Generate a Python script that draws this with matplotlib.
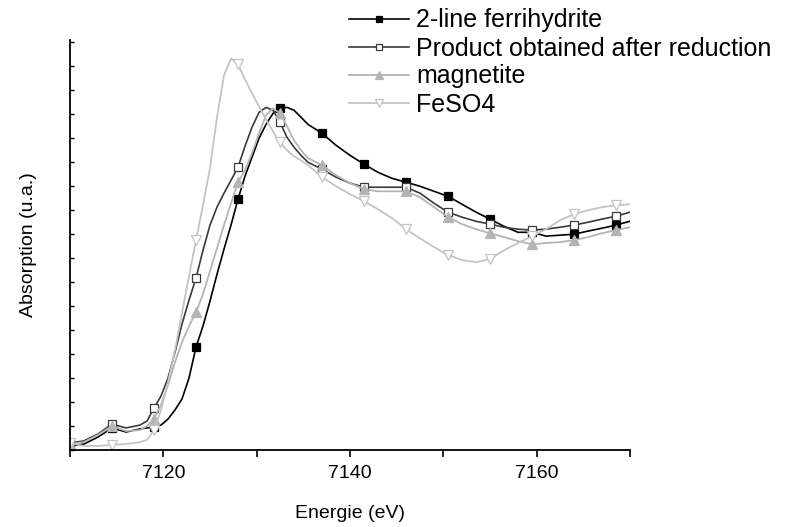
import numpy as np
import matplotlib
matplotlib.use("Agg")
import matplotlib.pyplot as plt
from matplotlib import ticker

plt.rcParams['font.family'] = ['Liberation Sans', 'DejaVu Sans']

# energie (eV), grille commune aux quatre spectres
energy = [7110.0, 7111.5, 7113.0, 7114.5, 7116.0,
          7117.5, 7118.25, 7119.0, 7119.75, 7120.5, 7121.25, 7122.0, 7122.75,
          7123.5, 7124.25, 7125.0, 7125.75, 7126.5, 7127.25, 7128.0, 7128.75,
          7129.5, 7130.25, 7131.0, 7131.75, 7132.5, 7133.25, 7134.0, 7134.75,
          7135.5, 7137.0, 7138.5, 7140.0, 7141.5, 7143.0, 7144.5, 7146.0,
          7147.5, 7149.0, 7150.5, 7152.0, 7153.5, 7155.0, 7156.5, 7158.0,
          7159.5, 7161.0, 7162.5, 7164.0, 7165.5, 7167.0, 7168.5, 7170.0]

ferrihydrite = [0.017, 0.025, 0.054, 0.092, 0.075,
                0.088, 0.092, 0.096, 0.104, 0.129, 0.167, 0.213, 0.300,
                0.429, 0.517, 0.621, 0.733, 0.838, 0.938, 1.046, 1.142,
                1.221, 1.300, 1.358, 1.404, 1.425, 1.429, 1.417, 1.388,
                1.358, 1.321, 1.271, 1.229, 1.192, 1.158, 1.133, 1.117,
                1.100, 1.079, 1.058, 1.025, 0.992, 0.963, 0.933, 0.908,
                0.908, 0.892, 0.896, 0.900, 0.913, 0.925, 0.938, 0.954]

product = [0.029, 0.038, 0.067, 0.108, 0.092,
           0.104, 0.121, 0.175, 0.225, 0.300, 0.408, 0.525, 0.625,
           0.717, 0.833, 0.938, 1.013, 1.071, 1.125, 1.179, 1.267,
           1.346, 1.408, 1.429, 1.417, 1.367, 1.304, 1.263, 1.229,
           1.200, 1.171, 1.138, 1.113, 1.096, 1.096, 1.096, 1.096,
           1.071, 1.029, 0.992, 0.971, 0.954, 0.942, 0.929, 0.921,
           0.917, 0.921, 0.929, 0.938, 0.950, 0.963, 0.975, 0.992]

magnetite = [0.025, 0.033, 0.063, 0.100, 0.079,
             0.083, 0.100, 0.129, 0.188, 0.271, 0.367, 0.450, 0.517,
             0.575, 0.650, 0.746, 0.842, 0.938, 1.029, 1.117, 1.167,
             1.238, 1.321, 1.396, 1.425, 1.404, 1.350, 1.292, 1.250,
             1.217, 1.188, 1.146, 1.113, 1.088, 1.079, 1.079, 1.079,
             1.054, 1.013, 0.971, 0.942, 0.921, 0.904, 0.888, 0.871,
             0.858, 0.863, 0.867, 0.875, 0.888, 0.904, 0.917, 0.929]

feso4 = [0.029, 0.017, 0.017, 0.021, 0.025,
         0.033, 0.042, 0.083, 0.167, 0.283, 0.417, 0.571, 0.725,
         0.875, 1.021, 1.175, 1.388, 1.563, 1.633, 1.608, 1.546,
         1.488, 1.433, 1.379, 1.329, 1.283, 1.250, 1.225, 1.208,
         1.188, 1.138, 1.100, 1.067, 1.038, 1.004, 0.967, 0.921,
         0.883, 0.846, 0.813, 0.792, 0.783, 0.796, 0.833, 0.863,
         0.892, 0.921, 0.958, 0.983, 1.000, 1.013, 1.021, 1.025]

labels = ['2-line ferrihydrite', 'Product obtained after reduction',
          'magnetite', 'FeSO4']

E = np.array(energy)
# un symbole tous les 4.5 eV
step = (E - E[0]) % 4.5
marks = list(np.where(np.isclose(step, 0) | np.isclose(step, 4.5))[0])

fig = plt.figure(figsize=(7.9, 5.27), dpi=100)
ax = fig.add_axes([70 / 790, 77 / 527, 560 / 790, 410 / 527])

styles = [
    dict(color='black', lw=1.2, marker='s', mfc='black', mec='black', ms=6),
    dict(color='#3a3a3a', lw=1.2, marker='s', mfc='white', mec='#3a3a3a', ms=6),
    dict(color='#b4b4b4', lw=1.3, marker='^', mfc='#b4b4b4', mec='#b4b4b4', ms=7),
    dict(color='#c4c4c4', lw=1.3, marker='v', mfc='white', mec='#c4c4c4', ms=7),
]
for ys, lab, st in zip([ferrihydrite, product, magnetite, feso4], labels, styles):
    ax.plot(E, ys, label=lab, markevery=marks, mew=0.9, **st)

ax.set_xlim(7110, 7170)
ax.set_ylim(0, 1.71)
ax.xaxis.set_major_locator(ticker.MultipleLocator(20))
ax.xaxis.set_minor_locator(ticker.MultipleLocator(10))
ax.yaxis.set_major_locator(ticker.MultipleLocator(0.1))
ax.tick_params(axis='x', which='both', direction='out', length=5, width=1.2,
               labelsize=14, pad=6)
ax.tick_params(axis='y', direction='in', length=3, width=1, labelleft=False)
for s in ['top', 'right']:
    ax.spines[s].set_visible(False)
for s in ['left', 'bottom']:
    ax.spines[s].set_linewidth(1.3)

ax.set_xlabel('Energie (eV)', fontsize=14, labelpad=16)
ax.set_ylabel('Absorption (u.a.)', fontsize=14, labelpad=24)

fig.legend(loc='upper left', bbox_to_anchor=(336 / 790, 1 + 4 / 527),
           frameon=False, fontsize=18, handlelength=2.4, handletextpad=0.3,
           labelspacing=0.16, borderpad=0, markerscale=0.8)

fig.savefig('out.png', dpi=100)
